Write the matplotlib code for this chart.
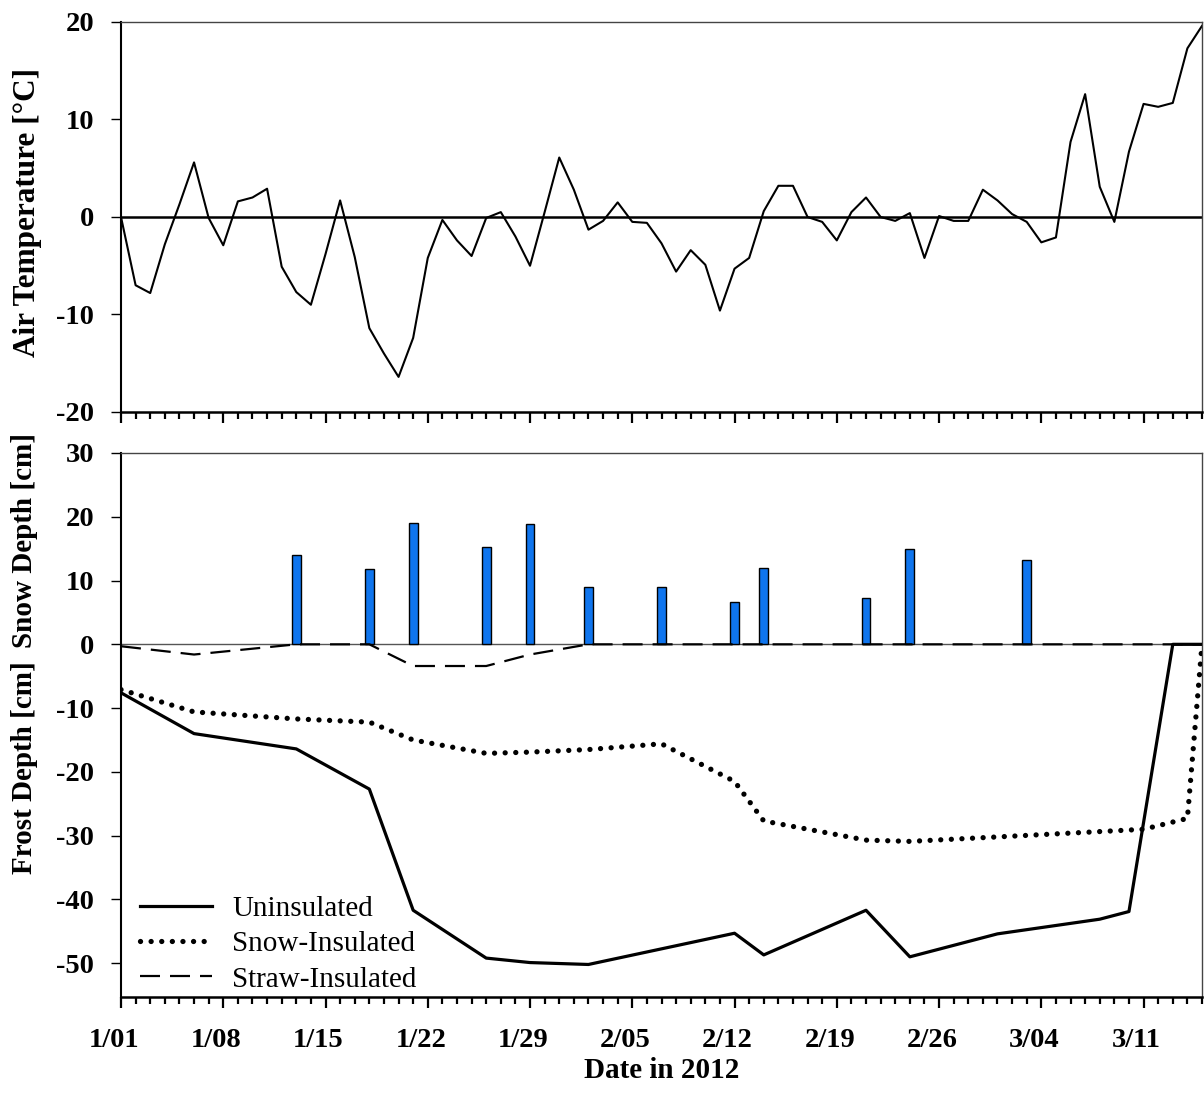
import matplotlib
matplotlib.use('Agg')
import matplotlib.pyplot as plt
from matplotlib.transforms import ScaledTranslation
import pandas as pd

# ---- data ----
# daily air temperature, 1/01 .. 3/15 2012 [°C]
air_temp = [0.0, -7.0, -7.8, -2.8, 1.3, 5.6, -0.1, -2.9, 1.6, 2.0,
            2.9, -5.1, -7.7, -9.0, -3.8, 1.7, -4.1, -11.4, -14.0, -16.4,
            -12.4, -4.2, -0.3, -2.4, -4.0, -0.1, 0.5, -2.0, -5.0, 0.5,
            6.1, 2.8, -1.3, -0.4, 1.5, -0.5, -0.6, -2.7, -5.6, -3.4,
            -4.9, -9.6, -5.3, -4.2, 0.6, 3.2, 3.2, 0.0, -0.5, -2.4,
            0.5, 2.0, 0.0, -0.4, 0.4, -4.2, 0.1, -0.4, -0.4, 2.8,
            1.7, 0.3, -0.5, -2.6, -2.1, 7.7, 12.6, 3.1, -0.5, 6.7,
            11.6, 11.3, 11.7, 17.3, 19.6]

snow_dates = ['2012-01-13', '2012-01-18', '2012-01-21', '2012-01-26', '2012-01-29', '2012-02-02',
              '2012-02-07', '2012-02-12', '2012-02-14', '2012-02-21', '2012-02-24', '2012-03-03']
snow_depth = [14.0, 11.8, 19.0, 15.3, 18.9, 9.0, 9.0, 6.6, 12.0, 7.2, 15.0, 13.2]

uns_dates = ['2012-01-01', '2012-01-06', '2012-01-13', '2012-01-18', '2012-01-21', '2012-01-26',
             '2012-01-29', '2012-02-02', '2012-02-12', '2012-02-14', '2012-02-21', '2012-02-24',
             '2012-03-01', '2012-03-08', '2012-03-10', '2012-03-13', '2012-03-15']
uns_depth = [-7.6, -14.0, -16.4, -22.7, -41.7, -49.2, -49.9, -50.2, -45.3, -48.7, -41.7, -49.0,
             -45.4, -43.1, -41.9, 0.0, 0.0]

snowins_dates = ['2012-01-01', '2012-01-06', '2012-01-13', '2012-01-18', '2012-01-21', '2012-01-26',
                 '2012-01-29', '2012-02-02', '2012-02-07', '2012-02-12', '2012-02-14', '2012-02-21',
                 '2012-02-24', '2012-03-01', '2012-03-11', '2012-03-14', '2012-03-15']
snowins_depth = [-7.1, -10.6, -11.7, -12.2, -15.0, -17.1, -16.9, -16.5, -15.6, -21.5, -27.7, -30.7,
                 -30.9, -30.2, -29.0, -27.3, 0.0]

straw_dates = ['2012-01-01', '2012-01-06', '2012-01-13', '2012-01-18', '2012-01-21', '2012-01-26',
               '2012-01-29', '2012-02-02', '2012-03-15']
straw_depth = [-0.3, -1.6, 0.0, 0.0, -3.4, -3.4, -1.6, 0.0, 0.0]

week_labels = ['1/01', '1/08', '1/15', '1/22', '1/29', '2/05', '2/12', '2/19', '2/26', '3/04', '3/11']

# ---- style ----
plt.rcParams['font.family'] = ['Liberation Serif', 'DejaVu Serif']
plt.rcParams['axes.unicode_minus'] = False
FS = 20.5

temp_days = pd.date_range('2012-01-01', periods=len(air_temp), freq='D')
week_ticks = pd.date_range('2012-01-01', periods=len(week_labels), freq='7D')
day_ticks = pd.date_range('2012-01-01', '2012-03-15', freq='D')
x0, x1 = pd.Timestamp('2012-01-01'), pd.Timestamp('2012-03-15')

fig = plt.figure(figsize=(12.04, 11.12), dpi=100)
ax1 = fig.add_axes([121 / 1204, 1 - 412 / 1112, 1081 / 1204, 390 / 1112])
ax2 = fig.add_axes([121 / 1204, 1 - 997 / 1112, 1081 / 1204, 544 / 1112])


def style_axis(ax):
    for s in ['top', 'right']:
        ax.spines[s].set_linewidth(1.0)
        ax.spines[s].set_color('#444444')
    ax.spines['left'].set_linewidth(1.5)
    ax.spines['bottom'].set_linewidth(1.8)
    ax.set_xlim(x0, x1)
    ax.set_xticks(week_ticks)
    ax.set_xticks(day_ticks, minor=True)
    ax.tick_params(axis='x', which='major', direction='out', length=8, width=1.6, pad=14)
    ax.tick_params(axis='x', which='minor', direction='out', length=5, width=1.6)
    ax.tick_params(axis='y', which='major', direction='out', length=7.5, width=1.0, pad=12)
    for lbl in ax.get_yticklabels():
        lbl.set_fontsize(FS)
        lbl.set_fontweight('bold')


# ---- top panel: air temperature ----
ax1.plot(temp_days, air_temp, color='black', lw=1.5)
ax1.axhline(0, color='black', lw=1.8)
ax1.set_ylim(-20, 20)
ax1.set_yticks([-20, -10, 0, 10, 20])
style_axis(ax1)
ax1.set_xticklabels([])
fig.text(28 / 1204, 1 - 212 / 1112, 'Air Temperature [°C]', rotation=90,
         ha='center', va='center', fontsize=22.5, fontweight='bold')

# ---- bottom panel: snow depth and frost depth ----
ax2.bar(pd.to_datetime(snow_dates), snow_depth, width=0.6, color='#0F75EE',
        edgecolor='black', linewidth=1.0, zorder=2)
ax2.axhline(0, color='#555555', lw=1.0, zorder=1)
ax2.plot(pd.to_datetime(uns_dates), uns_depth, color='black', lw=2.3,
         label='Uninsulated', zorder=3)
ax2.plot(pd.to_datetime(snowins_dates), snowins_depth, color='black', lw=3.8,
         linestyle=(0, (0.01, 2.0)), dash_capstyle='round', label='Snow-Insulated', zorder=3)
ax2.plot(pd.to_datetime(straw_dates), straw_depth, color='black', lw=1.6,
         linestyle=(0, (9, 4.5)), label='Straw-Insulated', zorder=3)
ax2.set_ylim(-55.3, 30)
ax2.set_yticks([-50, -40, -30, -20, -10, 0, 10, 20, 30])
style_axis(ax2)
ax2.set_xticklabels(week_labels, fontsize=FS, fontweight='bold')
shift = ScaledTranslation(-7 / 100, 0, fig.dpi_scale_trans)
for lbl in ax2.get_xticklabels():
    lbl.set_transform(lbl.get_transform() + shift)

leg = ax2.legend(loc='lower left', bbox_to_anchor=(15 / 1081, 0.0), frameon=False,
                 fontsize=21, handlelength=2.45, handletextpad=0.7,
                 labelspacing=0.3, borderaxespad=0.0, borderpad=0.15)

fig.text(25 / 1204, 1 - 541 / 1112, 'Snow Depth [cm]', rotation=90,
         ha='center', va='center', fontsize=21, fontweight='bold')
fig.text(25 / 1204, 1 - 768 / 1112, 'Frost Depth [cm]', rotation=90,
         ha='center', va='center', fontsize=21, fontweight='bold')
fig.text(662 / 1204, 1 - 1070 / 1112, 'Date in 2012', ha='center', va='center',
         fontsize=21, fontweight='bold')

fig.savefig('out.png', dpi=100)
